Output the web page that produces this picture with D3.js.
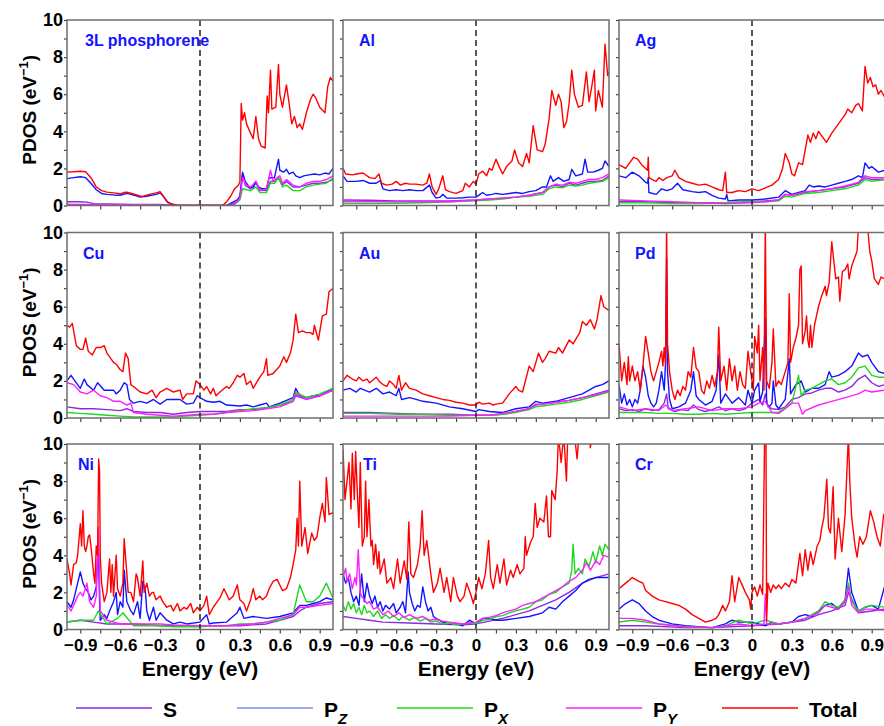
<!DOCTYPE html>
<html>
<head>
<meta charset="utf-8">
<script src="https://cdn.jsdelivr.net/npm/d3@7"></script>
<style>
  body { margin: 0; background: #fff; }
  svg { display: block; font-family: Arial, "Liberation Sans", sans-serif; }
</style>
</head>
<body>
<div id="chart"></div>
<script>
/*** chart values: [energy (eV), PDOS (1/eV)] */
var p1Total = [[-1,1.8],[-0.95,1.82],[-0.9,1.85],[-0.86,1.82],[-0.82,1.5],[-0.78,1.0],[-0.74,0.8],[-0.7,0.72],[-0.65,0.68],[-0.6,0.63],[-0.57,0.7],[-0.55,0.72],[-0.52,0.66],[-0.48,0.58],[-0.45,0.5],[-0.42,0.52],[-0.38,0.6],[-0.33,0.68],[-0.3,0.75],[-0.28,0.55],[-0.25,0.22],[-0.22,0.1],[-0.18,0.03],[-0.15,0],[0.17,0],[0.2,0.2],[0.23,0.5],[0.26,0.9],[0.29,1.1],[0.3,1.3],[0.31,5.5],[0.32,4.6],[0.335,5.0],[0.35,4.4],[0.38,3.9],[0.4,3.6],[0.42,4.8],[0.44,3.6],[0.46,3.2],[0.49,3.1],[0.505,5.9],[0.515,5.0],[0.53,7.3],[0.54,5.2],[0.57,5.3],[0.59,7.6],[0.6,6.0],[0.62,5.3],[0.65,6.5],[0.67,5.5],[0.69,4.4],[0.71,4.8],[0.73,4.2],[0.75,4.4],[0.77,4.1],[0.8,5.0],[0.83,5.7],[0.85,6.0],[0.87,5.8],[0.9,5.3],[0.94,5.0],[0.96,6.4],[0.98,6.9],[1.0,6.7]];
var p1Pz = [[-1,1.45],[-0.95,1.5],[-0.9,1.55],[-0.86,1.5],[-0.82,1.2],[-0.78,0.85],[-0.74,0.65],[-0.7,0.6],[-0.65,0.57],[-0.6,0.55],[-0.55,0.65],[-0.52,0.6],[-0.48,0.52],[-0.45,0.45],[-0.4,0.5],[-0.33,0.6],[-0.3,0.68],[-0.27,0.45],[-0.24,0.15],[-0.2,0.04],[-0.17,0],[0.2,0],[0.24,0.15],[0.28,0.3],[0.3,0.5],[0.32,1.8],[0.34,1.3],[0.37,1.0],[0.4,0.95],[0.42,1.3],[0.44,1.0],[0.47,0.9],[0.5,0.9],[0.52,1.5],[0.56,1.5],[0.59,2.5],[0.6,1.9],[0.63,1.8],[0.65,1.95],[0.67,1.7],[0.7,1.8],[0.72,1.6],[0.75,1.5],[0.78,1.6],[0.82,1.65],[0.86,1.7],[0.9,1.65],[0.94,1.75],[0.97,1.7],[1.0,2.0]];
var p1S = [[-1,0.2],[-0.9,0.2],[-0.85,0.18],[-0.8,0.1],[-0.7,0.08],[-0.5,0.06],[-0.3,0.05],[-0.2,0.02],[-0.15,0],[0.22,0],[0.28,0.2],[0.3,0.4],[0.32,1.7],[0.34,1.1],[0.38,0.9],[0.42,1.2],[0.45,0.85],[0.5,0.8],[0.53,1.3],[0.56,1.3],[0.59,1.5],[0.62,1.1],[0.65,1.3],[0.7,1.0],[0.75,1.0],[0.8,1.1],[0.85,1.2],[0.9,1.2],[0.95,1.25],[1.0,1.4]];
var p1Px = [[-1,0.05],[-0.5,0.03],[-0.2,0],[0.25,0],[0.3,0.3],[0.32,0.9],[0.35,0.85],[0.38,0.8],[0.42,1.0],[0.45,0.7],[0.5,0.7],[0.53,1.2],[0.56,1.2],[0.59,1.5],[0.62,1.0],[0.65,1.1],[0.7,0.8],[0.75,0.8],[0.8,1.0],[0.85,1.1],[0.9,1.15],[0.95,1.2],[1.0,1.5]];
var p1Py = [[-1,0.05],[-0.6,0.04],[-0.2,0],[0.25,0],[0.3,0.4],[0.32,1.5],[0.35,1.1],[0.38,1.0],[0.42,1.3],[0.45,0.8],[0.5,0.9],[0.53,1.9],[0.55,1.3],[0.58,1.5],[0.6,1.6],[0.62,1.2],[0.65,1.4],[0.7,1.1],[0.75,1.0],[0.8,1.2],[0.85,1.3],[0.9,1.3],[0.95,1.4],[1.0,1.6]];

var alTotal = [[-1,2.0],[-0.98,1.7],[-0.93,1.65],[-0.9,1.7],[-0.85,1.75],[-0.8,1.5],[-0.76,1.45],[-0.73,1.7],[-0.71,1.2],[-0.67,1.1],[-0.63,1.15],[-0.6,1.3],[-0.57,1.1],[-0.53,1.2],[-0.5,1.15],[-0.45,1.15],[-0.4,1.1],[-0.37,1.2],[-0.35,1.7],[-0.33,1.0],[-0.3,0.6],[-0.28,0.9],[-0.25,1.6],[-0.23,0.85],[-0.2,0.75],[-0.15,0.65],[-0.1,0.8],[-0.08,1.2],[-0.05,1.0],[-0.02,1.3],[0,1.15],[0.02,1.7],[0.05,1.85],[0.08,1.6],[0.1,2.0],[0.12,1.9],[0.15,2.5],[0.18,2.0],[0.2,1.7],[0.23,2.1],[0.27,2.4],[0.29,3.0],[0.32,2.3],[0.35,2.1],[0.38,2.8],[0.4,2.3],[0.43,4.3],[0.46,3.0],[0.5,2.9],[0.52,3.3],[0.55,4.7],[0.57,6.2],[0.6,5.4],[0.62,6.0],[0.64,5.6],[0.66,4.2],[0.68,4.5],[0.7,5.5],[0.72,7.3],[0.74,6.0],[0.77,5.3],[0.8,5.4],[0.83,7.2],[0.85,5.6],[0.87,6.4],[0.89,7.3],[0.9,5.1],[0.92,6.2],[0.95,5.3],[0.97,8.7],[0.99,7.0],[1.0,7.2]];
var alPz = [[-1,1.6],[-0.97,1.3],[-0.9,1.3],[-0.85,1.35],[-0.8,1.2],[-0.75,1.2],[-0.72,1.35],[-0.7,0.9],[-0.65,0.8],[-0.6,0.85],[-0.55,0.8],[-0.5,0.85],[-0.45,0.8],[-0.4,0.8],[-0.35,1.1],[-0.33,0.7],[-0.3,0.4],[-0.27,0.45],[-0.25,0.6],[-0.22,0.4],[-0.15,0.4],[-0.1,0.42],[-0.05,0.45],[0,0.45],[0.03,0.6],[0.05,0.7],[0.08,0.55],[0.12,0.6],[0.15,0.65],[0.2,0.6],[0.25,0.65],[0.3,0.7],[0.35,0.65],[0.4,0.75],[0.45,0.8],[0.5,1.0],[0.53,1.0],[0.56,1.6],[0.58,1.3],[0.62,1.5],[0.66,1.3],[0.7,1.4],[0.72,1.95],[0.75,1.6],[0.8,1.7],[0.82,2.5],[0.84,1.8],[0.88,1.8],[0.92,1.9],[0.95,2.0],[0.97,2.4],[1.0,2.1]];
var alS = [[-1,0.3],[-0.8,0.28],[-0.6,0.25],[-0.4,0.25],[-0.2,0.25],[0,0.3],[0.1,0.35],[0.2,0.4],[0.3,0.45],[0.4,0.55],[0.5,0.7],[0.55,1.0],[0.6,1.1],[0.65,1.0],[0.7,1.2],[0.75,1.1],[0.8,1.2],[0.85,1.3],[0.9,1.3],[0.95,1.35],[1.0,1.6]];
var alPx = [[-1,0.1],[-0.8,0.1],[-0.6,0.12],[-0.4,0.15],[-0.2,0.2],[0,0.25],[0.1,0.3],[0.2,0.35],[0.3,0.45],[0.4,0.5],[0.5,0.6],[0.55,0.9],[0.6,1.0],[0.65,0.95],[0.7,1.1],[0.75,1.05],[0.8,1.1],[0.85,1.2],[0.9,1.25],[0.95,1.3],[1.0,1.5]];
var alPy = [[-1,0.2],[-0.8,0.2],[-0.6,0.2],[-0.4,0.2],[-0.2,0.2],[0,0.3],[0.1,0.35],[0.2,0.4],[0.3,0.45],[0.4,0.55],[0.5,0.7],[0.55,1.0],[0.6,1.15],[0.65,1.1],[0.7,1.25],[0.75,1.2],[0.8,1.3],[0.85,1.4],[0.9,1.4],[0.95,1.5],[1.0,1.7]];

var agTotal = [[-1,2.2],[-0.95,2.0],[-0.92,2.3],[-0.89,2.6],[-0.86,2.5],[-0.83,2.2],[-0.8,2.0],[-0.785,1.9],[-0.78,2.6],[-0.775,1.5],[-0.75,1.4],[-0.72,1.3],[-0.7,1.5],[-0.67,1.35],[-0.64,1.5],[-0.6,1.6],[-0.58,1.9],[-0.55,1.5],[-0.5,1.3],[-0.45,1.2],[-0.4,1.1],[-0.35,1.15],[-0.3,1.0],[-0.25,0.85],[-0.22,0.8],[-0.2,1.8],[-0.19,0.7],[-0.15,0.7],[-0.1,0.8],[-0.05,0.75],[0,0.9],[0.05,0.8],[0.1,0.95],[0.15,1.1],[0.2,1.4],[0.23,2.0],[0.25,2.8],[0.28,2.3],[0.3,1.7],[0.32,1.6],[0.35,2.3],[0.38,2.2],[0.42,3.8],[0.44,3.4],[0.46,3.9],[0.48,3.6],[0.5,4.0],[0.53,3.7],[0.56,3.4],[0.6,3.9],[0.65,4.4],[0.7,4.9],[0.72,5.2],[0.75,5.0],[0.78,5.4],[0.8,5.5],[0.83,5.1],[0.85,7.5],[0.87,6.6],[0.89,6.9],[0.91,6.4],[0.93,6.5],[0.95,6.0],[0.97,6.2],[1.0,5.8]];
var agPz = [[-1,1.6],[-0.95,1.5],[-0.9,1.8],[-0.85,1.6],[-0.8,1.25],[-0.785,1.2],[-0.78,1.5],[-0.775,0.7],[-0.72,0.6],[-0.68,0.9],[-0.64,0.8],[-0.6,0.9],[-0.56,1.2],[-0.52,0.85],[-0.45,0.75],[-0.4,0.7],[-0.35,0.75],[-0.3,0.55],[-0.25,0.4],[-0.2,0.35],[-0.19,0.6],[-0.18,0.25],[-0.1,0.3],[0,0.3],[0.1,0.35],[0.2,0.45],[0.25,0.8],[0.3,0.6],[0.35,0.7],[0.4,0.8],[0.43,1.1],[0.46,1.0],[0.5,1.05],[0.55,1.0],[0.6,1.1],[0.65,1.2],[0.7,1.3],[0.75,1.4],[0.8,1.6],[0.83,1.5],[0.85,2.3],[0.88,2.0],[0.9,2.1],[0.95,1.8],[1.0,1.9]];
var agS = [[-1,0.2],[-0.8,0.2],[-0.6,0.15],[-0.4,0.15],[-0.2,0.15],[0,0.2],[0.1,0.25],[0.2,0.3],[0.25,0.6],[0.3,0.55],[0.4,0.7],[0.5,0.8],[0.6,0.9],[0.7,1.0],[0.8,1.2],[0.85,1.5],[0.9,1.4],[1.0,1.4]];
var agPx = [[-1,0.15],[-0.8,0.15],[-0.6,0.1],[-0.4,0.1],[-0.2,0.15],[0,0.2],[0.1,0.2],[0.2,0.25],[0.25,0.5],[0.3,0.45],[0.4,0.65],[0.5,0.7],[0.6,0.8],[0.7,0.9],[0.8,1.1],[0.85,1.4],[0.9,1.3],[1.0,1.4]];
var agPy = [[-1,0.3],[-0.8,0.25],[-0.6,0.2],[-0.4,0.15],[-0.2,0.1],[0,0.15],[0.1,0.2],[0.2,0.3],[0.25,0.6],[0.3,0.55],[0.4,0.75],[0.5,0.8],[0.6,0.9],[0.7,1.05],[0.8,1.25],[0.85,1.6],[0.9,1.5],[1.0,1.5]];

var cuTotal = [[-1,5.0],[-0.98,4.9],[-0.96,5.1],[-0.93,3.9],[-0.9,3.7],[-0.88,3.7],[-0.86,4.3],[-0.84,3.6],[-0.81,3.4],[-0.78,3.8],[-0.75,3.8],[-0.72,3.9],[-0.7,3.5],[-0.68,3.3],[-0.65,3.0],[-0.63,2.9],[-0.6,2.6],[-0.58,2.5],[-0.56,3.5],[-0.54,3.2],[-0.52,1.8],[-0.5,1.7],[-0.45,1.4],[-0.4,1.3],[-0.36,1.5],[-0.33,1.1],[-0.3,1.4],[-0.25,1.6],[-0.2,1.4],[-0.15,1.5],[-0.13,1.0],[-0.1,1.3],[-0.05,1.3],[-0.03,2.0],[0,1.8],[0.03,1.5],[0.05,1.7],[0.08,1.3],[0.1,1.6],[0.12,1.2],[0.15,1.4],[0.2,1.7],[0.22,1.6],[0.25,1.9],[0.28,2.3],[0.3,2.2],[0.33,2.4],[0.35,1.8],[0.38,2.0],[0.4,1.6],[0.45,2.2],[0.48,2.5],[0.5,3.2],[0.51,2.3],[0.55,2.4],[0.6,2.8],[0.63,3.3],[0.65,3.0],[0.68,3.5],[0.7,4.2],[0.72,5.6],[0.74,4.6],[0.77,4.7],[0.8,4.6],[0.83,4.6],[0.85,4.5],[0.86,5.0],[0.89,4.2],[0.92,5.5],[0.95,5.6],[0.97,6.8],[1.0,7.0]];
var cuPz = [[-1,2.0],[-0.97,2.3],[-0.95,2.1],[-0.9,1.6],[-0.87,2.1],[-0.85,1.8],[-0.8,1.5],[-0.77,1.9],[-0.72,1.5],[-0.68,1.5],[-0.65,1.5],[-0.63,1.3],[-0.6,1.5],[-0.57,1.9],[-0.55,1.8],[-0.53,1.0],[-0.5,0.8],[-0.45,0.9],[-0.4,0.8],[-0.35,1.0],[-0.3,0.75],[-0.25,1.0],[-0.2,1.0],[-0.15,1.0],[-0.1,0.75],[-0.05,0.8],[-0.02,1.2],[0,1.1],[0.05,0.9],[0.1,0.85],[0.15,0.9],[0.2,0.7],[0.3,0.65],[0.35,0.7],[0.4,0.6],[0.45,0.7],[0.5,0.8],[0.52,0.6],[0.6,0.8],[0.7,1.1],[0.72,1.6],[0.75,1.2],[0.8,1.1],[0.85,1.2],[0.9,1.2],[0.95,1.4],[1.0,1.6]];
var cuS = [[-1,0.6],[-0.9,0.5],[-0.8,0.5],[-0.7,0.45],[-0.6,0.4],[-0.55,0.5],[-0.5,0.35],[-0.4,0.3],[-0.3,0.3],[-0.2,0.2],[-0.1,0.3],[0,0.35],[0.1,0.35],[0.2,0.35],[0.3,0.45],[0.4,0.45],[0.5,0.55],[0.6,0.7],[0.7,0.9],[0.72,1.2],[0.8,1.0],[0.9,1.2],[1.0,1.5]];
var cuPx = [[-1,0.3],[-0.9,0.25],[-0.8,0.2],[-0.7,0.15],[-0.6,0.1],[-0.5,0.05],[-0.3,0.05],[-0.2,0.05],[-0.1,0.1],[0,0.15],[0.1,0.2],[0.2,0.3],[0.3,0.4],[0.4,0.5],[0.5,0.55],[0.6,0.7],[0.7,1.0],[0.72,1.4],[0.8,1.1],[0.9,1.3],[1.0,1.6]];
var cuPy = [[-1,1.9],[-0.95,1.8],[-0.9,1.4],[-0.85,1.3],[-0.8,1.5],[-0.75,1.2],[-0.7,1.1],[-0.65,0.9],[-0.6,0.9],[-0.55,0.7],[-0.52,0.8],[-0.5,0.3],[-0.4,0.2],[-0.3,0.15],[-0.2,0.1],[-0.1,0.15],[0,0.2],[0.1,0.2],[0.2,0.3],[0.3,0.35],[0.4,0.4],[0.5,0.5],[0.6,0.6],[0.7,0.9],[0.72,1.3],[0.8,1.0],[0.9,1.2],[1.0,1.5]];

var auTotal = [[-1,2.0],[-0.97,2.3],[-0.93,2.1],[-0.9,2.0],[-0.88,2.2],[-0.85,2.0],[-0.82,2.1],[-0.8,1.9],[-0.75,2.2],[-0.73,2.0],[-0.7,1.8],[-0.67,1.7],[-0.65,2.0],[-0.62,1.8],[-0.6,1.6],[-0.58,2.3],[-0.56,1.5],[-0.53,1.9],[-0.5,1.6],[-0.45,1.5],[-0.4,1.3],[-0.35,1.2],[-0.3,1.1],[-0.25,1.0],[-0.2,0.95],[-0.15,0.85],[-0.1,0.8],[-0.05,0.7],[0,0.7],[0.02,0.85],[0.05,0.75],[0.1,0.8],[0.13,0.7],[0.15,0.75],[0.2,0.8],[0.25,1.3],[0.3,1.7],[0.32,1.5],[0.35,1.4],[0.4,2.8],[0.43,2.5],[0.47,3.5],[0.5,3.0],[0.52,3.2],[0.55,3.6],[0.6,3.5],[0.62,3.8],[0.65,3.5],[0.7,4.2],[0.73,4.0],[0.78,4.6],[0.8,5.2],[0.83,5.0],[0.86,5.3],[0.89,4.8],[0.91,5.3],[0.94,6.6],[0.96,6.0],[1.0,5.8]];
var auPz = [[-1,1.5],[-0.95,1.6],[-0.9,1.4],[-0.87,1.6],[-0.8,1.4],[-0.75,1.6],[-0.7,1.3],[-0.65,1.4],[-0.6,1.2],[-0.58,1.6],[-0.56,1.0],[-0.5,1.1],[-0.45,1.0],[-0.4,0.9],[-0.3,0.8],[-0.2,0.6],[-0.1,0.5],[0,0.35],[0.02,0.45],[0.1,0.35],[0.2,0.3],[0.3,0.5],[0.4,0.6],[0.45,0.9],[0.5,0.8],[0.6,0.9],[0.7,1.1],[0.8,1.3],[0.85,1.5],[0.9,1.7],[0.95,1.8],[1.0,2.0]];
var auS = [[-1,0.3],[-0.8,0.3],[-0.6,0.25],[-0.4,0.2],[-0.2,0.2],[0,0.15],[0.1,0.15],[0.2,0.2],[0.3,0.35],[0.4,0.5],[0.45,0.7],[0.5,0.75],[0.6,0.85],[0.7,0.95],[0.8,1.1],[0.9,1.3],[1.0,1.5]];
var auPx = [[-1,0.25],[-0.8,0.25],[-0.6,0.2],[-0.4,0.2],[-0.2,0.15],[0,0.15],[0.1,0.15],[0.2,0.2],[0.3,0.3],[0.4,0.45],[0.45,0.6],[0.5,0.65],[0.6,0.75],[0.7,0.85],[0.8,1.0],[0.9,1.2],[1.0,1.4]];
var auPy = [[-1,0.1],[-0.8,0.1],[-0.6,0.1],[-0.4,0.1],[-0.2,0.1],[0,0.15],[0.1,0.15],[0.2,0.25],[0.3,0.35],[0.4,0.5],[0.45,0.75],[0.5,0.75],[0.6,0.85],[0.7,0.95],[0.8,1.1],[0.9,1.25],[1.0,1.45]];

var pdTotal = [[-1,4.0],[-0.98,2.0],[-0.96,3.0],[-0.94,1.8],[-0.93,3.3],[-0.92,2.0],[-0.9,2.8],[-0.88,2.0],[-0.86,2.5],[-0.84,1.5],[-0.82,2.8],[-0.8,4.4],[-0.78,3.5],[-0.76,2.5],[-0.74,2.0],[-0.72,2.5],[-0.7,3.0],[-0.68,3.6],[-0.67,2.8],[-0.66,3.8],[-0.65,2.9],[-0.642,10.5],[-0.635,4.0],[-0.62,2.5],[-0.6,1.5],[-0.58,1.0],[-0.56,1.5],[-0.54,1.2],[-0.52,1.7],[-0.5,1.5],[-0.48,2.5],[-0.46,2.2],[-0.44,3.8],[-0.42,2.7],[-0.4,2.5],[-0.38,1.5],[-0.36,1.3],[-0.34,2.0],[-0.32,1.6],[-0.3,2.3],[-0.28,1.7],[-0.26,2.5],[-0.25,4.9],[-0.235,2.0],[-0.21,2.8],[-0.19,1.5],[-0.17,3.2],[-0.15,2.0],[-0.13,2.8],[-0.11,1.5],[-0.09,2.5],[-0.07,1.8],[-0.05,1.6],[-0.03,3.6],[-0.01,2.5],[0.01,1.5],[0.02,4.4],[0.04,3.5],[0.05,5.0],[0.06,2.0],[0.08,3.8],[0.09,1.5],[0.1,10.5],[0.11,2.0],[0.13,1.6],[0.15,3.0],[0.16,4.8],[0.18,1.7],[0.2,2.0],[0.22,1.8],[0.25,2.5],[0.27,3.0],[0.28,6.7],[0.29,3.0],[0.31,3.8],[0.33,4.3],[0.35,5.0],[0.36,8.0],[0.37,8.2],[0.38,4.0],[0.4,4.7],[0.41,5.5],[0.42,4.2],[0.43,3.8],[0.44,5.0],[0.45,3.8],[0.47,5.0],[0.5,6.0],[0.52,6.5],[0.55,7.1],[0.56,6.6],[0.58,7.3],[0.6,9.5],[0.61,8.8],[0.63,7.5],[0.65,7.6],[0.66,6.3],[0.68,7.9],[0.7,8.0],[0.72,8.3],[0.73,7.5],[0.75,8.2],[0.77,8.6],[0.79,9.0],[0.8,10.3],[0.82,10.5],[0.84,10.4],[0.87,10.3],[0.885,9.0],[0.9,8.5],[0.92,7.5],[0.95,7.2],[0.97,7.6],[1.0,7.5]];
var pdPz = [[-1,1.8],[-0.98,0.8],[-0.96,1.3],[-0.94,0.7],[-0.92,1.0],[-0.9,0.6],[-0.88,1.0],[-0.86,0.8],[-0.84,1.5],[-0.82,2.8],[-0.8,2.2],[-0.78,1.2],[-0.76,0.8],[-0.74,0.6],[-0.72,0.8],[-0.7,1.5],[-0.68,2.5],[-0.66,1.5],[-0.65,3.0],[-0.642,8.6],[-0.635,2.5],[-0.62,1.0],[-0.6,0.5],[-0.55,0.6],[-0.5,0.8],[-0.46,1.5],[-0.44,2.5],[-0.42,1.2],[-0.4,1.0],[-0.35,0.7],[-0.3,0.9],[-0.27,1.5],[-0.25,3.4],[-0.235,0.8],[-0.2,1.3],[-0.15,0.8],[-0.1,1.1],[-0.05,0.7],[-0.03,1.5],[0,0.8],[0.02,1.5],[0.05,1.9],[0.06,0.9],[0.08,1.4],[0.1,5.4],[0.11,0.8],[0.13,0.6],[0.15,0.8],[0.16,2.0],[0.18,0.7],[0.2,0.5],[0.25,1.0],[0.28,3.2],[0.29,1.3],[0.33,1.8],[0.37,2.0],[0.4,1.4],[0.45,1.6],[0.5,1.6],[0.55,1.8],[0.58,2.5],[0.6,2.2],[0.65,2.3],[0.7,2.5],[0.75,2.8],[0.8,3.5],[0.83,3.3],[0.87,3.4],[0.9,3.0],[0.95,2.5],[1.0,2.4]];
var pdS = [[-1,0.5],[-0.95,0.4],[-0.9,0.45],[-0.85,0.35],[-0.8,0.5],[-0.75,0.4],[-0.7,0.45],[-0.66,0.8],[-0.642,1.3],[-0.63,0.5],[-0.58,0.35],[-0.53,0.45],[-0.48,0.4],[-0.44,0.7],[-0.4,0.45],[-0.35,0.35],[-0.3,0.45],[-0.25,0.6],[-0.2,0.4],[-0.15,0.5],[-0.1,0.4],[-0.05,0.5],[0,0.8],[0.05,1.0],[0.08,0.7],[0.1,1.3],[0.12,0.6],[0.15,0.5],[0.2,0.45],[0.25,0.6],[0.3,1.0],[0.35,1.1],[0.4,1.3],[0.45,1.35],[0.5,1.5],[0.55,1.6],[0.6,1.6],[0.65,1.4],[0.7,1.5],[0.75,1.7],[0.8,2.1],[0.85,2.3],[0.9,1.9],[0.95,1.7],[1.0,1.8]];
var pdPx = [[-1,0.3],[-0.9,0.3],[-0.8,0.3],[-0.7,0.25],[-0.6,0.25],[-0.5,0.2],[-0.4,0.2],[-0.3,0.25],[-0.2,0.2],[-0.1,0.25],[0,0.3],[0.1,0.3],[0.2,0.3],[0.3,0.8],[0.35,2.3],[0.37,1.2],[0.4,1.5],[0.45,1.6],[0.5,1.8],[0.55,2.0],[0.6,2.1],[0.65,1.8],[0.7,1.9],[0.75,2.2],[0.8,2.7],[0.85,2.8],[0.9,2.3],[0.95,2.2],[1.0,2.2]];
var pdPy = [[-1,0.6],[-0.9,0.4],[-0.8,0.5],[-0.7,0.4],[-0.65,0.7],[-0.6,0.4],[-0.5,0.5],[-0.4,0.6],[-0.3,0.4],[-0.2,0.5],[-0.1,0.5],[0,0.6],[0.05,0.8],[0.1,0.9],[0.15,0.3],[0.2,0.25],[0.25,0.5],[0.3,0.8],[0.35,0.8],[0.38,0.2],[0.4,0.4],[0.5,0.7],[0.6,0.9],[0.7,1.1],[0.8,1.3],[0.85,1.5],[0.9,1.4],[1.0,1.5]];

var niTotal = [[-1,3.8],[-0.98,3.0],[-0.97,2.4],[-0.95,3.5],[-0.93,3.6],[-0.92,4.0],[-0.9,5.7],[-0.89,4.5],[-0.88,6.4],[-0.87,4.5],[-0.86,4.2],[-0.85,4.5],[-0.84,5.0],[-0.83,5.1],[-0.82,4.5],[-0.8,3.0],[-0.79,2.5],[-0.78,4.5],[-0.77,4.0],[-0.762,9.2],[-0.755,8.5],[-0.75,4.0],[-0.74,2.5],[-0.73,2.0],[-0.72,1.5],[-0.7,2.0],[-0.68,3.8],[-0.67,2.0],[-0.66,3.5],[-0.65,1.8],[-0.63,4.0],[-0.62,2.2],[-0.6,1.8],[-0.58,2.5],[-0.57,4.9],[-0.55,3.0],[-0.54,2.0],[-0.52,2.0],[-0.5,1.5],[-0.48,3.0],[-0.47,2.8],[-0.45,1.8],[-0.43,3.7],[-0.42,2.0],[-0.4,2.5],[-0.38,1.8],[-0.36,2.0],[-0.35,2.0],[-0.33,1.6],[-0.3,1.8],[-0.28,1.5],[-0.25,1.2],[-0.22,1.3],[-0.2,1.0],[-0.17,1.4],[-0.15,1.0],[-0.12,1.2],[-0.1,1.1],[-0.07,1.4],[-0.05,0.9],[-0.02,1.2],[0,1.0],[0.03,1.3],[0.05,1.8],[0.07,0.8],[0.1,1.2],[0.13,1.5],[0.15,1.7],[0.18,2.2],[0.2,1.9],[0.22,1.6],[0.25,1.8],[0.28,2.4],[0.3,1.6],[0.33,1.4],[0.35,1.0],[0.38,1.6],[0.4,2.2],[0.42,1.6],[0.45,1.8],[0.47,1.6],[0.5,1.8],[0.52,2.2],[0.55,2.6],[0.58,2.7],[0.6,2.4],[0.62,2.1],[0.65,2.2],[0.68,2.8],[0.7,3.5],[0.72,4.3],[0.73,6.0],[0.74,4.5],[0.75,8.0],[0.765,4.5],[0.79,5.5],[0.81,4.1],[0.84,5.2],[0.86,4.8],[0.88,5.0],[0.9,6.0],[0.92,6.8],[0.94,5.8],[0.95,8.2],[0.97,6.2],[1.0,6.3]];
var niPz = [[-1,1.5],[-0.97,1.2],[-0.95,1.6],[-0.92,2.5],[-0.9,3.1],[-0.88,2.5],[-0.86,2.2],[-0.84,2.0],[-0.82,1.6],[-0.8,1.8],[-0.78,2.3],[-0.765,4.6],[-0.755,1.5],[-0.75,0.5],[-0.72,0.8],[-0.7,0.6],[-0.68,1.0],[-0.65,1.5],[-0.63,2.0],[-0.62,0.8],[-0.6,1.5],[-0.58,1.2],[-0.57,3.2],[-0.55,1.5],[-0.52,1.0],[-0.5,0.8],[-0.47,1.5],[-0.45,0.6],[-0.43,2.6],[-0.41,2.0],[-0.4,1.0],[-0.38,0.5],[-0.35,1.2],[-0.33,0.5],[-0.3,0.9],[-0.25,0.5],[-0.2,0.3],[-0.15,0.4],[-0.1,0.3],[0,0.4],[0.05,0.8],[0.07,0.3],[0.1,0.35],[0.2,0.4],[0.28,0.9],[0.3,1.2],[0.33,0.6],[0.4,0.7],[0.5,0.6],[0.6,0.7],[0.7,0.9],[0.75,1.3],[0.8,1.3],[0.85,1.4],[0.9,1.5],[0.95,1.7],[1.0,1.6]];
var niS = [[-1,0.4],[-0.9,0.5],[-0.8,0.4],[-0.7,0.3],[-0.5,0.3],[-0.3,0.2],[0,0.2],[0.3,0.2],[0.5,0.3],[0.6,0.5],[0.7,0.7],[0.75,1.0],[0.8,1.2],[0.9,1.4],[1.0,1.5]];
var niPx = [[-1,0.4],[-0.9,0.5],[-0.8,0.5],[-0.765,1.0],[-0.7,0.3],[-0.62,0.6],[-0.58,0.9],[-0.5,0.2],[-0.4,0.2],[-0.3,0.2],[-0.2,0.15],[-0.1,0.15],[0,0.15],[0.1,0.2],[0.2,0.2],[0.3,0.3],[0.4,0.3],[0.5,0.4],[0.6,0.5],[0.7,0.8],[0.75,2.4],[0.8,1.5],[0.85,1.5],[0.9,1.8],[0.95,2.5],[1.0,1.7]];
var niPy = [[-1,1.3],[-0.97,1.0],[-0.95,1.3],[-0.92,1.8],[-0.9,2.0],[-0.88,1.8],[-0.85,2.5],[-0.83,1.5],[-0.8,1.2],[-0.78,1.8],[-0.765,5.5],[-0.75,1.0],[-0.7,0.5],[-0.65,0.4],[-0.6,0.3],[-0.5,0.3],[-0.4,0.3],[-0.3,0.3],[-0.2,0.25],[0,0.2],[0.2,0.2],[0.4,0.3],[0.5,0.4],[0.6,0.6],[0.7,0.8],[0.75,1.2],[0.8,1.2],[0.9,1.3],[1.0,1.4]];

var tiTotal = [[-1,9.7],[-0.985,7.0],[-0.97,8.0],[-0.955,9.0],[-0.94,6.5],[-0.93,9.5],[-0.915,7.0],[-0.905,9.6],[-0.89,7.0],[-0.88,5.5],[-0.87,9.0],[-0.855,4.5],[-0.84,5.0],[-0.83,8.0],[-0.82,5.0],[-0.805,7.0],[-0.79,4.5],[-0.78,4.8],[-0.77,3.5],[-0.755,4.6],[-0.74,3.3],[-0.73,4.2],[-0.72,3.0],[-0.69,3.8],[-0.67,2.5],[-0.64,2.8],[-0.62,2.2],[-0.59,3.8],[-0.57,2.5],[-0.54,3.7],[-0.52,2.7],[-0.505,5.8],[-0.49,3.0],[-0.47,2.8],[-0.44,3.5],[-0.42,4.5],[-0.405,6.4],[-0.39,4.0],[-0.37,4.8],[-0.34,3.0],[-0.32,2.0],[-0.29,2.5],[-0.27,3.3],[-0.24,2.0],[-0.22,2.8],[-0.19,1.5],[-0.17,2.8],[-0.14,1.8],[-0.12,1.5],[-0.09,1.8],[-0.07,2.5],[-0.04,1.9],[-0.02,1.4],[0,2.0],[0.02,2.8],[0.045,2.2],[0.07,3.0],[0.095,4.8],[0.11,2.8],[0.13,2.2],[0.16,3.5],[0.18,2.5],[0.21,3.8],[0.23,2.4],[0.26,3.2],[0.28,2.8],[0.31,3.5],[0.33,3.0],[0.36,3.3],[0.37,5.0],[0.38,4.0],[0.41,4.7],[0.43,5.0],[0.445,6.8],[0.46,5.5],[0.48,6.0],[0.51,5.8],[0.53,7.2],[0.545,5.0],[0.56,5.0],[0.57,7.5],[0.595,7.0],[0.61,8.5],[0.62,10.5],[0.64,9.0],[0.66,10.5],[0.68,8.0],[0.69,10.5],[0.72,11],[0.74,10.5],[0.76,9.2],[0.78,11],[0.82,10.5],[0.85,11],[0.86,9.8],[0.88,11],[0.92,11],[0.96,10.8],[1.0,11]];
var tiPz = [[-1,3.0],[-0.98,2.5],[-0.96,2.8],[-0.94,2.0],[-0.92,1.5],[-0.9,1.8],[-0.88,1.3],[-0.86,3.0],[-0.84,1.5],[-0.82,2.5],[-0.8,1.8],[-0.78,1.4],[-0.76,1.8],[-0.74,1.2],[-0.72,1.5],[-0.7,1.0],[-0.68,1.3],[-0.65,1.1],[-0.62,1.4],[-0.6,0.9],[-0.57,1.2],[-0.55,1.5],[-0.53,0.9],[-0.51,3.1],[-0.5,2.0],[-0.48,1.4],[-0.46,1.0],[-0.44,1.3],[-0.42,1.2],[-0.4,2.3],[-0.38,1.5],[-0.36,1.0],[-0.34,1.2],[-0.32,0.7],[-0.3,0.6],[-0.25,0.4],[-0.2,0.3],[-0.15,0.3],[-0.1,0.2],[-0.05,0.5],[0,0.3],[0.05,0.6],[0.1,0.6],[0.15,0.5],[0.2,0.5],[0.3,0.6],[0.4,0.7],[0.5,0.9],[0.55,1.2],[0.6,1.1],[0.65,1.5],[0.7,1.8],[0.75,2.1],[0.8,2.5],[0.85,2.7],[0.9,2.8],[0.95,2.8],[1.0,2.8]];
var tiS = [[-1,0.7],[-0.9,0.6],[-0.8,0.5],[-0.7,0.4],[-0.5,0.35],[-0.3,0.3],[-0.1,0.25],[0,0.3],[0.2,0.6],[0.4,1.0],[0.6,1.6],[0.7,2.0],[0.8,2.5],[0.9,2.8],[1.0,3.0]];
var tiPx = [[-1,1.3],[-0.98,1.0],[-0.96,1.5],[-0.94,1.1],[-0.92,1.4],[-0.9,0.9],[-0.88,1.2],[-0.86,0.8],[-0.84,1.3],[-0.82,0.9],[-0.8,1.0],[-0.77,0.7],[-0.74,1.0],[-0.71,0.6],[-0.68,0.8],[-0.65,0.6],[-0.62,0.75],[-0.58,0.5],[-0.55,0.7],[-0.5,0.5],[-0.46,0.65],[-0.42,0.45],[-0.38,0.6],[-0.34,0.4],[-0.3,0.45],[-0.25,0.3],[-0.2,0.35],[-0.15,0.25],[-0.1,0.3],[-0.05,0.35],[0,0.3],[0.05,0.5],[0.1,0.55],[0.15,0.7],[0.2,0.75],[0.25,0.9],[0.3,1.0],[0.35,1.1],[0.4,1.2],[0.45,1.5],[0.5,1.6],[0.55,1.9],[0.6,2.0],[0.65,2.3],[0.7,2.5],[0.72,3.2],[0.73,4.6],[0.745,3.0],[0.77,3.3],[0.8,3.0],[0.82,3.8],[0.85,3.4],[0.88,4.2],[0.9,3.6],[0.93,4.5],[0.95,4.0],[0.97,4.6],[1.0,4.3]];
var tiPy = [[-1,2.8],[-0.98,3.3],[-0.97,2.6],[-0.95,3.0],[-0.93,2.2],[-0.91,2.8],[-0.9,2.4],[-0.885,4.3],[-0.87,2.0],[-0.86,1.8],[-0.84,1.6],[-0.82,1.4],[-0.8,1.5],[-0.77,1.1],[-0.74,1.2],[-0.7,0.8],[-0.66,1.0],[-0.62,0.7],[-0.58,0.9],[-0.54,0.65],[-0.5,0.8],[-0.45,0.6],[-0.4,0.7],[-0.35,0.5],[-0.3,0.55],[-0.25,0.45],[-0.2,0.4],[-0.15,0.35],[-0.1,0.3],[-0.05,0.35],[0,0.4],[0.05,0.6],[0.1,0.65],[0.15,0.75],[0.2,0.9],[0.25,1.0],[0.3,1.1],[0.35,1.3],[0.4,1.4],[0.45,1.5],[0.5,1.7],[0.55,1.9],[0.6,2.1],[0.65,2.3],[0.7,2.6],[0.75,2.8],[0.8,3.2],[0.83,3.6],[0.86,3.2],[0.9,3.7],[0.93,3.5],[0.96,4.0],[1.0,3.9]];

var crTotal = [[-1,2.2],[-0.95,2.5],[-0.9,2.8],[-0.85,2.6],[-0.82,2.5],[-0.8,2.1],[-0.75,1.8],[-0.7,1.6],[-0.65,1.5],[-0.6,1.4],[-0.55,1.3],[-0.5,1.1],[-0.45,0.8],[-0.4,0.6],[-0.35,0.4],[-0.3,0.5],[-0.27,0.6],[-0.25,0.8],[-0.22,1.3],[-0.2,1.0],[-0.17,1.5],[-0.15,2.9],[-0.13,1.5],[-0.1,2.8],[-0.08,2.5],[-0.05,2.0],[-0.02,1.6],[-0.01,1.1],[0,2.0],[0.02,2.3],[0.04,1.8],[0.06,2.4],[0.08,1.9],[0.095,10.5],[0.105,10.5],[0.11,0.5],[0.12,2.5],[0.14,2.0],[0.16,2.4],[0.18,2.2],[0.2,2.4],[0.22,2.2],[0.25,2.5],[0.28,2.3],[0.3,2.7],[0.33,2.5],[0.36,4.1],[0.38,2.9],[0.4,4.3],[0.42,3.2],[0.44,4.2],[0.46,3.5],[0.49,4.5],[0.51,4.8],[0.525,5.5],[0.54,6.0],[0.5625,8.1],[0.575,5.5],[0.59,5.2],[0.61,7.7],[0.625,3.8],[0.65,6.0],[0.675,4.2],[0.7,6.2],[0.725,10.5],[0.735,8.0],[0.75,6.0],[0.775,4.5],[0.79,3.9],[0.81,5.0],[0.835,4.6],[0.86,5.0],[0.89,6.4],[0.915,5.8],[0.94,5.0],[0.965,4.5],[0.99,6.2],[1.0,6.0]];
var crPz = [[-1,1.1],[-0.95,1.4],[-0.9,1.6],[-0.85,1.4],[-0.8,1.0],[-0.75,0.7],[-0.7,0.5],[-0.65,0.4],[-0.6,0.3],[-0.5,0.2],[-0.4,0.15],[-0.3,0.1],[-0.2,0.3],[-0.15,0.5],[-0.1,0.4],[0,0.4],[0.05,0.3],[0.1,0.2],[0.15,0.4],[0.2,0.3],[0.3,0.4],[0.35,0.7],[0.4,0.8],[0.45,0.7],[0.5,1.0],[0.55,1.3],[0.6,1.4],[0.65,1.1],[0.7,1.6],[0.725,3.3],[0.75,2.0],[0.8,1.0],[0.85,1.2],[0.9,1.3],[0.95,1.1],[1.0,2.4]];
var crS = [[-1,0.2],[-0.8,0.2],[-0.5,0.1],[-0.3,0.1],[0,0.2],[0.2,0.3],[0.4,0.5],[0.5,0.8],[0.6,1.0],[0.7,1.3],[0.725,2.0],[0.8,0.9],[0.9,1.0],[1.0,1.1]];
var crPx = [[-1,0.4],[-0.9,0.5],[-0.8,0.4],[-0.7,0.3],[-0.5,0.15],[-0.3,0.1],[-0.2,0.2],[-0.1,0.5],[0,0.3],[0.1,0.5],[0.2,0.3],[0.3,0.4],[0.4,0.6],[0.5,1.0],[0.55,1.5],[0.6,1.3],[0.65,1.2],[0.7,1.6],[0.725,2.5],[0.75,1.5],[0.8,1.0],[0.85,1.2],[0.9,1.3],[1.0,1.2]];
var crPy = [[-1,0.6],[-0.9,0.6],[-0.8,0.5],[-0.7,0.3],[-0.5,0.15],[-0.3,0.1],[-0.1,0.3],[0,0.2],[0.09,0.3],[0.1,1.9],[0.11,0.3],[0.2,0.3],[0.3,0.4],[0.4,0.6],[0.5,0.9],[0.55,1.3],[0.6,1.2],[0.65,1.1],[0.7,1.5],[0.725,2.3],[0.75,1.3],[0.8,0.9],[0.85,1.1],[0.9,1.1],[1.0,1.0]];

var panelNames = ['3L phosphorene', 'Al', 'Ag', 'Cu', 'Au', 'Pd', 'Ni', 'Ti', 'Cr'];
var seriesNames = ['S', 'Pz', 'Px', 'Py', 'Total'];
var seriesColors = ['#8a2be2', '#1414ff', '#1ed81e', '#ff1eff', '#ff0000'];
var xTickValues = [-0.9, -0.75, -0.6, -0.45, -0.3, -0.15, 0, 0.15, 0.3, 0.45, 0.6, 0.75, 0.9];
var xLabelValues = [-0.9, -0.6, -0.3, 0, 0.3, 0.6, 0.9];
var yTickValues = [0, 1, 2, 3, 4, 5, 6, 7, 8, 9, 10];
var yLabelValues = [0, 2, 4, 6, 8, 10];

var panelSeries = [
  [p1S, p1Pz, p1Px, p1Py, p1Total],
  [alS, alPz, alPx, alPy, alTotal],
  [agS, agPz, agPx, agPy, agTotal],
  [cuS, cuPz, cuPx, cuPy, cuTotal],
  [auS, auPz, auPx, auPy, auTotal],
  [pdS, pdPz, pdPx, pdPy, pdTotal],
  [niS, niPz, niPx, niPy, niTotal],
  [tiS, tiPz, tiPx, tiPy, tiTotal],
  [crS, crPz, crPx, crPy, crTotal]
];

/*** layout */
var layout = {
  width: 884,
  height: 726,
  colX: [67, 343, 619],
  rowY: [20, 232.5, 444],
  pw: 266,
  ph: 185.5
};
var labelDx = [18, 16, 16, 16, 16, 16, 11, 20, 16];

var svg = d3.select('#chart')
  .append('svg')
  .attr('width', layout.width)
  .attr('height', layout.height);

var x = d3.scaleLinear().domain([-1, 1]).range([0, layout.pw]);
var y = d3.scaleLinear().domain([0, 10]).range([layout.ph, 0]);

var line = d3.line()
  .x(d => x(d[0]))
  .y(d => y(d[1]));

function fmtX(d) {
  if (xLabelValues.indexOf(d) < 0) return '';
  if (d === 0) return '0';
  return (d < 0 ? '\u2212' : '') + Math.abs(d).toFixed(1);
}

panelSeries.forEach(function(series, i) {
  var col = i % 3, row = Math.floor(i / 3);
  var g = svg.append('g')
    .attr('transform', 'translate(' + layout.colX[col] + ',' + layout.rowY[row] + ')');

  g.append('clipPath')
    .attr('id', 'clip' + i)
    .append('rect')
    .attr('width', layout.pw)
    .attr('height', layout.ph);

  // x axis
  var xa = g.append('g')
    .attr('transform', 'translate(0,' + layout.ph + ')')
    .call(d3.axisBottom(x)
      .tickValues(xTickValues)
      .tickSize(4)
      .tickPadding(5)
      .tickFormat(row === 2 ? fmtX : () => ''));
  xa.select('.domain').remove();
  xa.selectAll('line').attr('stroke', '#444').attr('stroke-width', 1.2);
  xa.selectAll('text')
    .attr('font-size', 17)
    .attr('font-weight', 'bold')
    .attr('fill', '#000')
    .attr('font-family', 'Arial, "Liberation Sans", sans-serif');

  // y axis
  var ya = g.append('g')
    .call(d3.axisLeft(y)
      .tickValues(yTickValues)
      .tickSize(3)
      .tickPadding(1)
      .tickFormat(col === 0 ? (d => yLabelValues.indexOf(d) >= 0 ? d : '') : () => ''));
  ya.select('.domain').remove();
  ya.selectAll('line').attr('stroke', '#444').attr('stroke-width', 1.2);
  ya.selectAll('text')
    .attr('font-size', 18)
    .attr('font-weight', 'bold')
    .attr('fill', '#000')
    .attr('font-family', 'Arial, "Liberation Sans", sans-serif');

  // curves
  var plot = g.append('g').attr('clip-path', 'url(#clip' + i + ')');
  series.forEach(function(s, k) {
    plot.append('path')
      .datum(s)
      .attr('d', line)
      .attr('fill', 'none')
      .attr('stroke', seriesColors[k])
      .attr('stroke-width', 1.4)
      .attr('stroke-linejoin', 'round');
  });

  // Fermi level
  g.append('line')
    .attr('x1', x(0)).attr('x2', x(0))
    .attr('y1', 0).attr('y2', layout.ph)
    .attr('stroke', '#222')
    .attr('stroke-width', 1.5)
    .attr('stroke-dasharray', '6,4');

  // frame
  g.append('rect')
    .attr('width', layout.pw)
    .attr('height', layout.ph)
    .attr('fill', 'none')
    .attr('stroke', '#6e6e6e')
    .attr('stroke-width', 1.5);

  g.append('text')
    .attr('x', labelDx[i])
    .attr('y', 26)
    .attr('fill', '#1414ff')
    .attr('font-size', 16)
    .attr('font-weight', 'bold')
    .text(panelNames[i]);

  if (col === 0) {
    var t = svg.append('text')
      .attr('transform', 'translate(' + 36 + ',' + (layout.rowY[row] + layout.ph / 2 - 3) + ') rotate(-90)')
      .attr('text-anchor', 'middle')
      .attr('font-size', 19)
      .attr('font-weight', 'bold');
    t.append('tspan').text('PDOS (eV');
    t.append('tspan').attr('dy', -8).attr('font-size', 13).text('\u22121');
    t.append('tspan').attr('dy', 8).text(')');
  }

  if (row === 2) {
    svg.append('text')
      .attr('x', layout.colX[col] + layout.pw / 2)
      .attr('y', 676)
      .attr('text-anchor', 'middle')
      .attr('font-size', 21)
      .attr('font-weight', 'bold')
      .text('Energy (eV)');
  }
});

/*** legend */
var legendX = [76, 237, 397, 566, 722];
var legendSub = ['', 'Z', 'X', 'Y', ''];
var legendMain = ['S', 'P', 'P', 'P', 'Total'];
var legendLineColors = ['#8a2be2', '#7d8cf5', '#1ed81e', '#ff1eff', '#ff0000'];
var legend = svg.append('g');
seriesNames.forEach(function(name, k) {
  legend.append('line')
    .attr('x1', legendX[k]).attr('x2', legendX[k] + 76)
    .attr('y1', 708).attr('y2', 708)
    .attr('stroke', legendLineColors[k])
    .attr('stroke-width', 1.6);
  var t = legend.append('text')
    .attr('x', legendX[k] + 87)
    .attr('y', 717)
    .attr('font-size', 21)
    .attr('font-weight', 'bold');
  t.append('tspan').text(legendMain[k]);
  if (legendSub[k]) {
    t.append('tspan')
      .attr('dy', 7)
      .attr('font-size', 15)
      .attr('font-style', 'italic')
      .text(legendSub[k]);
  }
});
</script>
</body>
</html>
